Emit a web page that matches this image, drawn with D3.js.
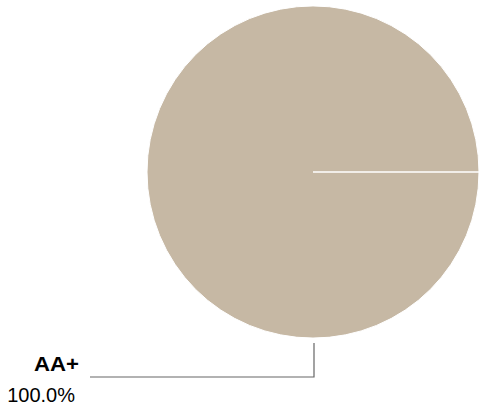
<!DOCTYPE html>
<html><head><meta charset="utf-8">
<script src="https://cdn.jsdelivr.net/npm/d3@7"></script>
<style>body{margin:0;background:#fff;}svg{display:block;} text{font-family:"Liberation Sans",Arial,Helvetica,sans-serif;}</style>
</head><body>
<svg id="c" width="483" height="406"></svg>
<script>
const categories = ["AA+"];
const values = [100.0];
const percentLabels = ["100.0%"];
const colors = ["#C6B8A4"];

const svg = d3.select("#c");
const cx = 313, cy = 172, r = 166;
const g = svg.append("g").attr("transform", `translate(${cx},${cy})`);
const pie = d3.pie().sort(null).startAngle(Math.PI/2).endAngle(Math.PI/2 + 2*Math.PI);
const arc = d3.arc().innerRadius(0).outerRadius(r);
const arcs = pie(values);
g.selectAll("path.slice").data(arcs).enter().append("path").attr("class","slice")
  .attr("d", arc).attr("fill", (d,i)=>colors[i])
  .attr("stroke", "#fff").attr("stroke-width", 1);

// slice boundary edges (radial lines at start angle)
g.selectAll("line.edge").data(arcs).enter().append("line").attr("class","edge")
  .attr("x1",0).attr("y1",0)
  .attr("x2", d => r*Math.sin(d.startAngle)).attr("y2", d => -r*Math.cos(d.startAngle))
  .attr("stroke","#fff").attr("stroke-width",1.5);

// leader line from bottom of pie
const lx = 1, ly0 = r + 5, ly1 = 205, lxEnd = 90 - cx;
g.append("polyline")
  .attr("points", `${lx},${ly0} ${lx},${ly1} ${lxEnd},${ly1}`)
  .attr("fill","none").attr("stroke","#666").attr("stroke-width",1.2);

svg.append("text").attr("x", 34).attr("y", 371)
  .attr("font-weight","bold")
  .attr("font-size", 19.5).attr("textLength", 45).attr("lengthAdjust","spacingAndGlyphs")
  .attr("fill","#000").text(categories[0]);
svg.append("text").attr("x", 75).attr("y", 402.3).attr("text-anchor","end")
  .attr("font-size", 20).attr("fill","#000").text(percentLabels[0]);
</script>
</body></html>
